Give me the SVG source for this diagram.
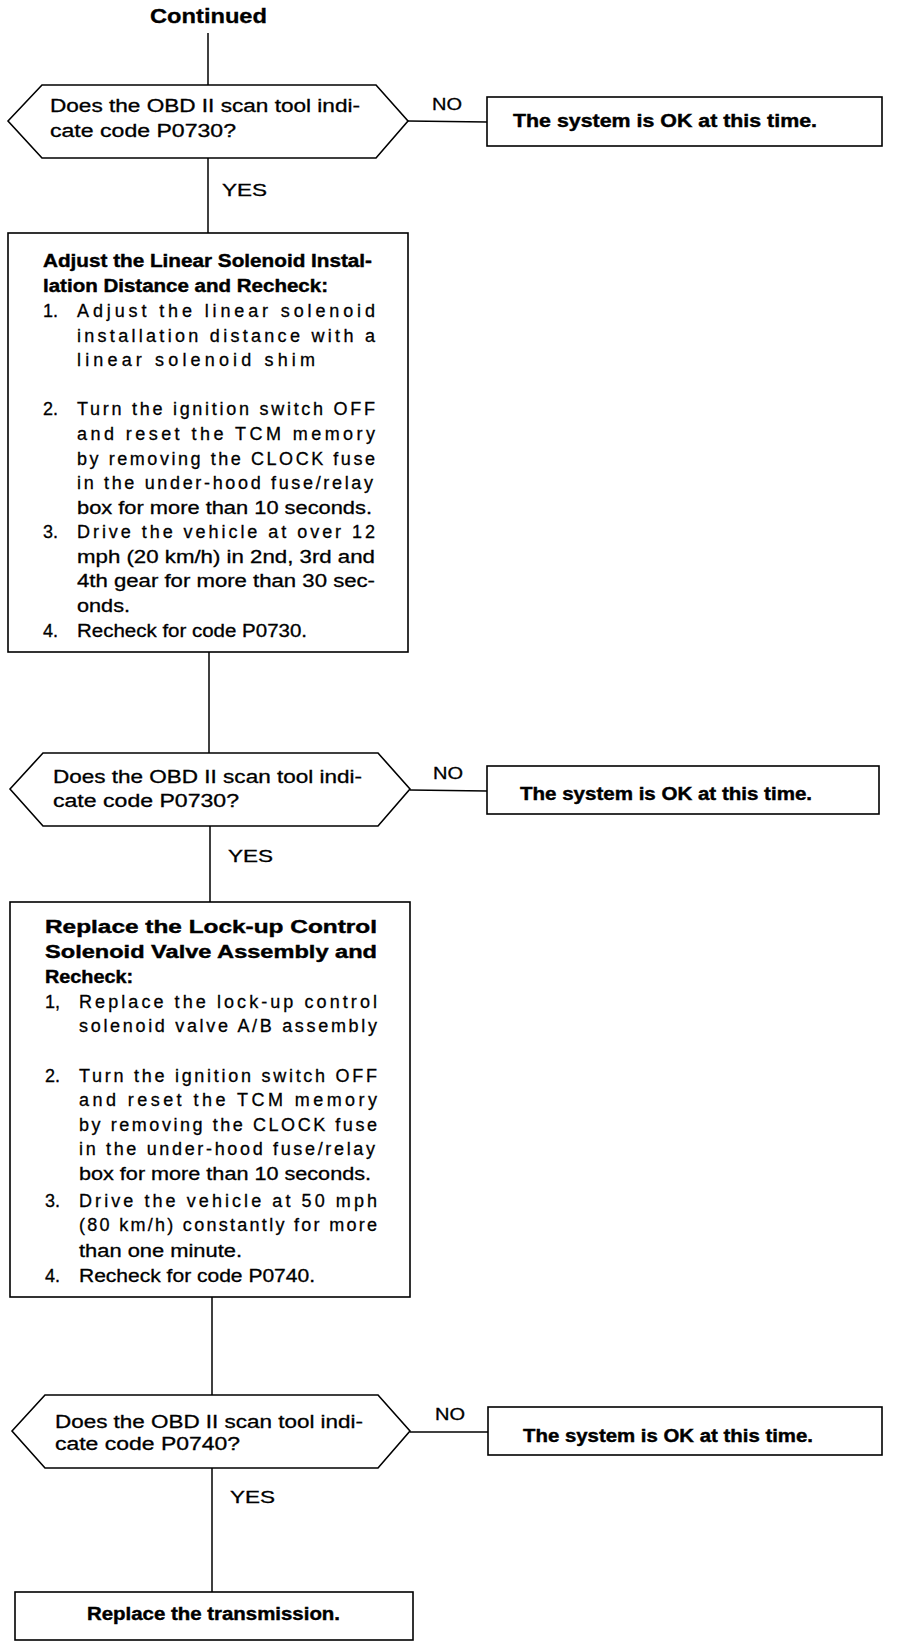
<svg xmlns="http://www.w3.org/2000/svg" width="912" height="1648" viewBox="0 0 912 1648">
<style>
.shape{fill:#fff;stroke:#000;stroke-width:1.6}
.conn{fill:none;stroke:#000;stroke-width:1.5}
text{font-family:"Liberation Sans",Arial,Helvetica,sans-serif;fill:#000}
.t{font-size:18px;stroke:#000;stroke-width:0.3}
.b{font-size:17.5px;font-weight:bold;stroke:#000;stroke-width:0.4}
.lbl{font-size:17px;stroke:#000;stroke-width:0.3}
.head{font-size:20px;font-weight:bold;stroke:#000;stroke-width:0.3}
</style>
<rect width="912" height="1648" fill="#fff"/>
<g id="connectors">
<line class="conn" x1="208" y1="33" x2="208" y2="85"/>
<line class="conn" x1="208" y1="158" x2="208" y2="233"/>
<line class="conn" x1="408" y1="121" x2="487" y2="122"/>
<line class="conn" x1="209" y1="652" x2="209" y2="753"/>
<line class="conn" x1="410" y1="790" x2="487" y2="791"/>
<line class="conn" x1="210" y1="826" x2="210" y2="902"/>
<line class="conn" x1="212" y1="1297" x2="212" y2="1395"/>
<line class="conn" x1="410" y1="1432" x2="488" y2="1432"/>
<line class="conn" x1="212" y1="1468" x2="212" y2="1592"/>
<text class="lbl" x="222" y="196" textLength="45" lengthAdjust="spacingAndGlyphs">YES</text>
<text class="lbl" x="228" y="862" textLength="45" lengthAdjust="spacingAndGlyphs">YES</text>
<text class="lbl" x="230" y="1503" textLength="45" lengthAdjust="spacingAndGlyphs">YES</text>
<text class="lbl" x="432" y="110" textLength="30" lengthAdjust="spacingAndGlyphs">NO</text>
<text class="lbl" x="433" y="779" textLength="30" lengthAdjust="spacingAndGlyphs">NO</text>
<text class="lbl" x="435" y="1420" textLength="30" lengthAdjust="spacingAndGlyphs">NO</text>
</g>
<g id="start">
<text class="head" x="150" y="23" textLength="117" lengthAdjust="spacingAndGlyphs">Continued</text>
</g>
<g id="decision1">
<polygon class="shape" points="8,121 42,85 376,85 408,121 376,158 42,158"/>
<text class="t" x="50" y="112" textLength="310" lengthAdjust="spacingAndGlyphs">Does the OBD II scan tool indi-</text>
<text class="t" x="50" y="137" textLength="186" lengthAdjust="spacingAndGlyphs">cate code P0730?</text>
</g>
<g id="ok1">
<rect class="shape" x="487" y="97" width="395" height="49"/>
<text class="b" x="513" y="127" textLength="304" lengthAdjust="spacingAndGlyphs">The system is OK at this time.</text>
</g>
<g id="step1">
<rect class="shape" x="8" y="233" width="400" height="419"/>
<text class="b" x="43" y="267" textLength="329" lengthAdjust="spacingAndGlyphs">Adjust the Linear Solenoid Instal-</text>
<text class="b" x="43" y="292" textLength="285" lengthAdjust="spacingAndGlyphs">lation Distance and Recheck:</text>
<text class="t" x="43" y="317">1.</text>
<text class="t" x="77" y="317" textLength="298" lengthAdjust="spacing">Adjust the linear solenoid</text>
<text class="t" x="77" y="342" textLength="298" lengthAdjust="spacing">installation distance with a</text>
<text class="t" x="77" y="366" textLength="238" lengthAdjust="spacing">linear solenoid shim</text>
<text class="t" x="43" y="415">2.</text>
<text class="t" x="77" y="415" textLength="298" lengthAdjust="spacing">Turn the ignition switch OFF</text>
<text class="t" x="77" y="440" textLength="298" lengthAdjust="spacing">and reset the TCM memory</text>
<text class="t" x="77" y="465" textLength="298" lengthAdjust="spacing">by removing the CLOCK fuse</text>
<text class="t" x="77" y="489" textLength="296" lengthAdjust="spacing">in the under-hood fuse/relay</text>
<text class="t" x="77" y="514" textLength="295" lengthAdjust="spacingAndGlyphs">box for more than 10 seconds.</text>
<text class="t" x="43" y="538">3.</text>
<text class="t" x="77" y="538" textLength="298" lengthAdjust="spacing">Drive the vehicle at over 12</text>
<text class="t" x="77" y="563" textLength="298" lengthAdjust="spacingAndGlyphs">mph (20 km/h) in 2nd, 3rd and</text>
<text class="t" x="77" y="587" textLength="298" lengthAdjust="spacingAndGlyphs">4th gear for more than 30 sec-</text>
<text class="t" x="77" y="612" textLength="53" lengthAdjust="spacingAndGlyphs">onds.</text>
<text class="t" x="43" y="637">4.</text>
<text class="t" x="77" y="637" textLength="230" lengthAdjust="spacingAndGlyphs">Recheck for code P0730.</text>
</g>
<g id="decision2">
<polygon class="shape" points="10,789 43,753 378,753 410,789 378,826 43,826"/>
<text class="t" x="53" y="783" textLength="309" lengthAdjust="spacingAndGlyphs">Does the OBD II scan tool indi-</text>
<text class="t" x="53" y="807" textLength="186" lengthAdjust="spacingAndGlyphs">cate code P0730?</text>
</g>
<g id="ok2">
<rect class="shape" x="487" y="766" width="392" height="48"/>
<text class="b" x="520" y="800" textLength="292" lengthAdjust="spacingAndGlyphs">The system is OK at this time.</text>
</g>
<g id="step2">
<rect class="shape" x="10" y="902" width="400" height="395"/>
<text class="b" x="45" y="933" textLength="332" lengthAdjust="spacingAndGlyphs" style="font-size:18px">Replace the Lock-up Control</text>
<text class="b" x="45" y="958" textLength="332" lengthAdjust="spacingAndGlyphs" style="font-size:18px">Solenoid Valve Assembly and</text>
<text class="b" x="45" y="983" textLength="88" lengthAdjust="spacingAndGlyphs">Recheck:</text>
<text class="t" x="45" y="1008">1,</text>
<text class="t" x="79" y="1008" textLength="298" lengthAdjust="spacing">Replace the lock-up control</text>
<text class="t" x="79" y="1032" textLength="298" lengthAdjust="spacing">solenoid valve A/B assembly</text>
<text class="t" x="45" y="1082">2.</text>
<text class="t" x="79" y="1082" textLength="298" lengthAdjust="spacing">Turn the ignition switch OFF</text>
<text class="t" x="79" y="1106" textLength="298" lengthAdjust="spacing">and reset the TCM memory</text>
<text class="t" x="79" y="1131" textLength="298" lengthAdjust="spacing">by removing the CLOCK fuse</text>
<text class="t" x="79" y="1155" textLength="296" lengthAdjust="spacing">in the under-hood fuse/relay</text>
<text class="t" x="79" y="1180" textLength="292" lengthAdjust="spacingAndGlyphs">box for more than 10 seconds.</text>
<text class="t" x="45" y="1207">3.</text>
<text class="t" x="79" y="1207" textLength="298" lengthAdjust="spacing">Drive the vehicle at 50 mph</text>
<text class="t" x="79" y="1231" textLength="298" lengthAdjust="spacing">(80 km/h) constantly for more</text>
<text class="t" x="79" y="1257" textLength="163" lengthAdjust="spacingAndGlyphs">than one minute.</text>
<text class="t" x="45" y="1282">4.</text>
<text class="t" x="79" y="1282" textLength="236" lengthAdjust="spacingAndGlyphs">Recheck for code P0740.</text>
</g>
<g id="decision3">
<polygon class="shape" points="12,1431 45,1395 378,1395 410,1431 378,1468 45,1468"/>
<text class="t" x="55" y="1428" textLength="308" lengthAdjust="spacingAndGlyphs">Does the OBD II scan tool indi-</text>
<text class="t" x="55" y="1450" textLength="185" lengthAdjust="spacingAndGlyphs">cate code P0740?</text>
</g>
<g id="ok3">
<rect class="shape" x="488" y="1407" width="394" height="48"/>
<text class="b" x="523" y="1442" textLength="290" lengthAdjust="spacingAndGlyphs">The system is OK at this time.</text>
</g>
<g id="end">
<rect class="shape" x="15" y="1592" width="398" height="48"/>
<text class="b" x="87" y="1620" textLength="253" lengthAdjust="spacingAndGlyphs">Replace the transmission.</text>
</g>
</svg>
